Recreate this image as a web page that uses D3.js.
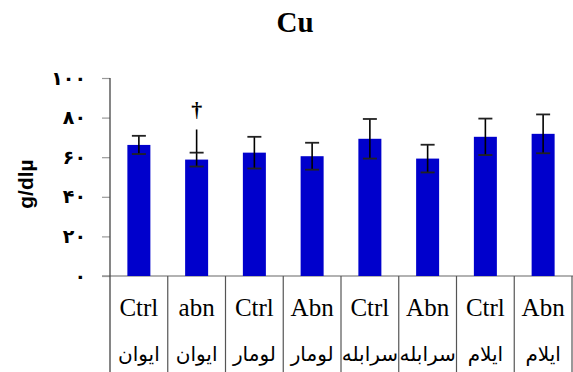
<!DOCTYPE html>
<html><head><meta charset="utf-8">
<script src="https://cdn.jsdelivr.net/npm/d3@7"></script>
<style>body{margin:0;background:#fff}svg{display:block}</style>
</head><body>
<script>
const groupLabels = ["Ctrl","abn","Ctrl","Abn","Ctrl","Abn","Ctrl","Abn"];
const placeLabels = ["ایوان","ایوان","لومار","لومار","سرابله","سرابله","ایلام","ایلام"];
const values = [66.2, 58.8, 62.3, 60.5, 69.3, 59.3, 70.3, 71.8];
const errors = [4.6, 3.5, 8.0, 6.8, 10.0, 7.0, 9.2, 9.8];
const yTicks = [0, 20, 40, 60, 80, 100];
const yTickLabels = ["۰","۲۰","۴۰","۶۰","۸۰","۱۰۰"];
// annotation on bar 2: extra whisker and dagger mark
const annotIndex = 1;
const annotLineTop = 74;
const annotMark = "†";

const W = 573, H = 372;
const svg = d3.select("body").append("svg").attr("width", W).attr("height", H);

const y = d3.scaleLinear().domain([0, 100]).range([276, 78]);
const x = d3.scaleBand().domain(d3.range(values.length)).range([110, 572]).padding(0);
const barW = 23, capHalf = 7;

// title
svg.append("text").attr("x", 295).attr("y", 32).attr("text-anchor", "middle")
  .style("font-family", "Liberation Serif").style("font-weight", "bold").style("font-size", "29px")
  .text("Cu");

// y axis title
svg.append("text").attr("transform", "translate(33,184) rotate(-90)").attr("text-anchor", "middle")
  .style("font-family", "Liberation Sans").style("font-weight", "bold").style("font-size", "21px")
  .text("g/dlµ");

// y axis
const yAxis = d3.axisLeft(y).tickValues(yTicks).tickSize(8).tickPadding(16)
  .tickFormat((d, i) => yTickLabels[i]);
const gy = svg.append("g").attr("transform", "translate(110,0)").call(yAxis);
gy.select(".domain").remove();
gy.selectAll(".tick line").attr("stroke", "#999").attr("stroke-width", 1.2);
gy.selectAll(".tick text").style("font-family", "DejaVu Sans").style("font-weight", "bold")
  .style("font-size", "19px").attr("fill", "#000");

// x axis baseline
svg.append("line").attr("x1", 102).attr("x2", 573).attr("y1", y(0)).attr("y2", y(0))
  .attr("stroke", "#999").attr("stroke-width", 1.5);

// bars
svg.selectAll("rect.bar").data(values).enter().append("rect").attr("class", "bar")
  .attr("x", (d, i) => x(i) + x.bandwidth() / 2 - barW / 2)
  .attr("y", d => y(d)).attr("width", barW).attr("height", d => y(0) - y(d))
  .attr("fill", "#0000CC");

// vertical y-axis line (top tick to bottom)
svg.append("line").attr("x1", 110).attr("x2", 110).attr("y1", y(100)).attr("y2", H)
  .attr("stroke", "#444").attr("stroke-width", 1.3);
// table dividers
svg.selectAll("line.div").data(d3.range(1, values.length + 1)).enter().append("line").attr("class", "div")
  .attr("x1", i => x.range()[0] + i * x.bandwidth()).attr("x2", i => x.range()[0] + i * x.bandwidth())
  .attr("y1", y(0)).attr("y2", H).attr("stroke", "#555").attr("stroke-width", 1.2);

// error bars
const eb = svg.selectAll("g.err").data(values).enter().append("g").attr("class", "err");
eb.append("line").attr("x1", (d, i) => x(i) + x.bandwidth() / 2).attr("x2", (d, i) => x(i) + x.bandwidth() / 2)
  .attr("y1", (d, i) => y(d + errors[i])).attr("y2", (d, i) => y(d - errors[i]))
  .attr("stroke", "#000").attr("stroke-width", 1.6);
[1, -1].forEach(s => {
  eb.append("line").attr("x1", (d, i) => x(i) + x.bandwidth() / 2 - capHalf)
    .attr("x2", (d, i) => x(i) + x.bandwidth() / 2 + capHalf)
    .attr("y1", (d, i) => y(d + s * errors[i])).attr("y2", (d, i) => y(d + s * errors[i]))
    .attr("stroke", "#222").attr("stroke-width", 1.8);
});

// annotation
const ax = x(annotIndex) + x.bandwidth() / 2;
svg.append("line").attr("x1", ax).attr("x2", ax)
  .attr("y1", y(annotLineTop)).attr("y2", y(values[annotIndex] + errors[annotIndex]))
  .attr("stroke", "#000").attr("stroke-width", 1.6);
svg.append("text").attr("x", ax).attr("y", 117).attr("text-anchor", "middle")
  .style("font-family", "Liberation Serif").style("font-weight", "bold").style("font-size", "22px")
  .text(annotMark);

// category labels
svg.selectAll("text.grp").data(groupLabels).enter().append("text").attr("class", "grp")
  .attr("x", (d, i) => x(i) + x.bandwidth() / 2).attr("y", 316).attr("text-anchor", "middle")
  .style("font-family", "Liberation Serif").style("font-size", "25px").text(d => d);
svg.selectAll("text.place").data(placeLabels).enter().append("text").attr("class", "place")
  .attr("x", (d, i) => x(i) + x.bandwidth() / 2).attr("y", 361).attr("text-anchor", "middle")
  .attr("direction", "rtl")
  .style("font-family", "DejaVu Serif, DejaVu Sans").style("font-size", "20px").text(d => d);
</script>
</body></html>
